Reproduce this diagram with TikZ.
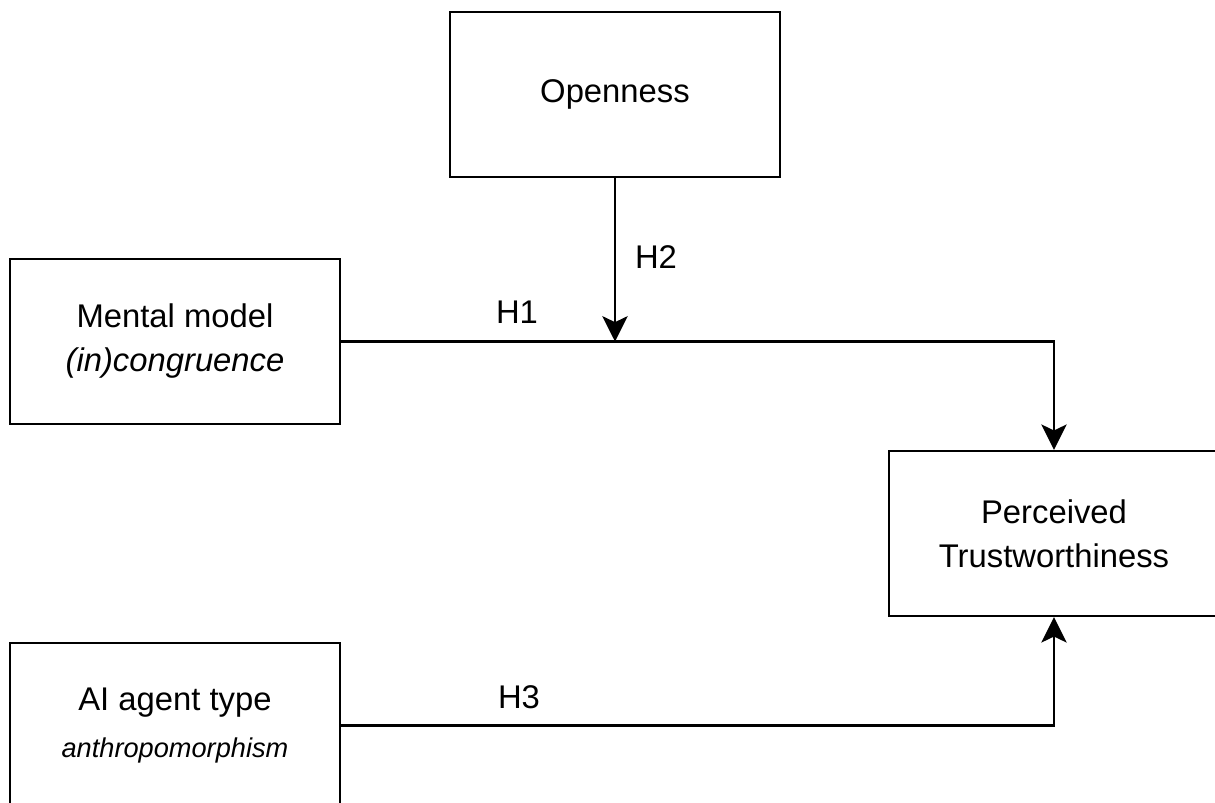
\documentclass[tikz,border=0pt]{standalone}
\usepackage{fontspec}
\setmainfont{Liberation Sans}
\usetikzlibrary{arrows.meta,positioning}
\tikzset{
  box/.style={draw, line width=1.8pt, align=center, inner sep=0pt,
              minimum width=247.5pt, minimum height=123.75pt,
              font=\fontsize{24.6}{33}\selectfont},
  hyp/.style={font=\fontsize{24.6}{29.5}\selectfont, inner sep=0pt},
  flow/.style={-{Stealth[length=19pt, width=19pt, inset=4.5pt]}, line width=1.8pt},
}
\newcommand{\subtxt}{\fontsize{20.4}{24}\selectfont\itshape}

\begin{document}
\begin{tikzpicture}[x=0.75pt, y=-0.75pt]
  \clip (0,0) rectangle (1215,803);
  \fill[white] (0,0) rectangle (1215,803);

  \node[box] (open) at (615,94.5) {Openness};
  \node[box] (mental) at (175,341.5) {Mental model\\ \textit{(in)congruence}};
  \node[box] (trust) at (1054,533.5) {Perceived\\ Trustworthiness};
  \node[box] (agent) at (175,725.5) {AI agent type\\[2pt] {\subtxt anthropomorphism}};

  \coordinate (join) at (open.south |- mental.east);
  \draw[flow] (mental.east) -| (trust.north);
  \draw[flow] (open.south) -- (join);
  \draw[flow] (agent.east) -| (trust.south);

  \node[hyp] (h1) at (517,312) {H1};
  \node[hyp] (h2) at (656,257) {H2};
  \node[hyp] (h3) at (519,697) {H3};
\end{tikzpicture}
\end{document}
